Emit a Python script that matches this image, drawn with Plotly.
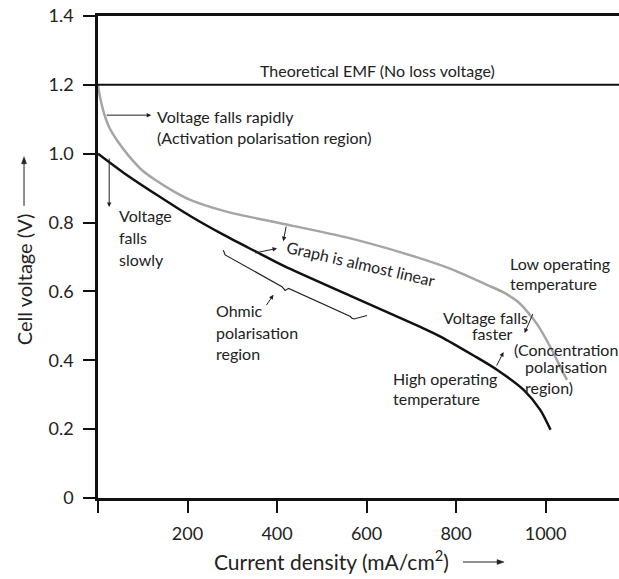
import plotly.graph_objects as go

# Polarisation curves of a fuel cell: cell voltage vs current density
low_temp_j = [0, 3, 7, 14, 25, 44, 66, 96, 130, 170, 206, 281, 355, 415, 564, 720, 795, 869, 905, 936, 958, 981,
              1010, 1040, 1048]
low_temp_v = [1.20, 1.175, 1.15, 1.115, 1.077, 1.036, 0.998, 0.955, 0.922, 0.890, 0.866, 0.834, 0.812, 0.796,
              0.754, 0.696, 0.662, 0.619, 0.598, 0.572, 0.543, 0.505, 0.440, 0.362, 0.343]

high_temp_j = [0, 57, 132, 206, 281, 355, 415, 564, 720, 765, 839, 892, 951, 988, 1011]
high_temp_v = [1.0, 0.945, 0.880, 0.819, 0.764, 0.714, 0.674, 0.587, 0.497, 0.469, 0.414, 0.372, 0.314, 0.256, 0.198]

theoretical_emf = 1.2
y_ticks = [0, 0.2, 0.4, 0.6, 0.8, 1.0, 1.2, 1.4]
y_tick_text = ["0", "0.2", "0.4", "0.6", "0.8", "1.0", "1.2", "1.4"]
x_ticks = [0, 200, 400, 600, 800, 1000]
x_tick_text = ["", "200", "400", "600", "800", "1000"]

FONT = "Lato"
TXT = "#222222"
INK = "#222222"
LBL = 16

fig = go.Figure()
fig.add_trace(go.Scatter(x=low_temp_j, y=low_temp_v, mode="lines",
                         line=dict(color="#a5a5a5", width=2.5, shape="spline", smoothing=0.8),
                         hoverinfo="skip", showlegend=False))
fig.add_trace(go.Scatter(x=high_temp_j, y=high_temp_v, mode="lines",
                         line=dict(color="#111111", width=2.5, shape="spline", smoothing=0.8),
                         hoverinfo="skip", showlegend=False))

# Theoretical EMF line
fig.add_shape(type="line", x0=0, x1=1, xref="paper", y0=theoretical_emf, y1=theoretical_emf,
              yref="y", line=dict(color="#111111", width=2))

# Curly bracket marking the ohmic region
fig.add_shape(type="path", xref="x", yref="y",
              path="M 280,0.720 L 284,0.706 L 411,0.614 L 418,0.603 L 426,0.609 "
                   "L 564,0.527 Q 567,0.521 572,0.520 L 601,0.530",
              line=dict(color=INK, width=1.2))

# Direction arrows beside the axis titles (paper coordinates)
fig.add_shape(type="line", xref="paper", yref="paper", x0=-0.142, x1=-0.142, y0=0.606, y1=0.695,
              line=dict(color=INK, width=1))
fig.add_shape(type="path", xref="paper", yref="paper",
              path="M -0.1468,0.6935 L -0.1372,0.6935 L -0.142,0.708 Z",
              fillcolor=INK, line=dict(color=INK, width=0.5))
fig.add_shape(type="line", xref="paper", yref="paper", x0=0.7006, x1=0.768, y0=-0.1328, y1=-0.1328,
              line=dict(color=INK, width=1))
fig.add_shape(type="path", xref="paper", yref="paper",
              path="M 0.766,-0.1278 L 0.766,-0.1378 L 0.7795,-0.1328 Z",
              fillcolor=INK, line=dict(color=INK, width=0.5))

annotations = []


def label(x, y, text, anchor="left", size=LBL):
    annotations.append(dict(x=x, y=y, xref="x", yref="y", text=text, showarrow=False,
                            xanchor=anchor, yanchor="middle",
                            font=dict(family=FONT, size=size, color=TXT)))


def arrow(x0, y0, x1, y1):
    fig.add_annotation(x=x1, y=y1, ax=x0, ay=y0, xref="x", yref="y",
                       axref="x", ayref="y", text="", showarrow=True,
                       arrowhead=2, arrowsize=0.9, arrowwidth=1, arrowcolor=INK)


label(624, 1.243, "Theoretical EMF (No loss voltage)", anchor="center")
label(128, 1.109, "Voltage falls rapidly")
label(128, 1.048, "(Activation polarisation region)")
arrow(16, 1.112, 119, 1.112)

label(43, 0.822, "Voltage")
label(43, 0.758, "falls")
label(43, 0.694, "slowly")
arrow(25, 0.990, 25, 0.845)

annotations.append(dict(x=588, y=0.680, xref="x", yref="y", text="Graph is almost linear",
                        showarrow=False, textangle=13, xanchor="center", yanchor="middle",
                        font=dict(family=FONT, size=LBL, color=TXT)))
arrow(421, 0.793, 414, 0.746)
arrow(348, 0.711, 400, 0.725)

label(260, 0.546, "Ohmic")
label(260, 0.482, "polarisation")
label(260, 0.421, "region")
arrow(374, 0.556, 392, 0.590)

label(915, 0.682, "Low operating")
label(915, 0.624, "temperature")

label(966, 0.523, "Voltage falls", anchor="right")
label(932, 0.479, "faster", anchor="right")
arrow(973, 0.539, 953, 0.479)

label(925, 0.430, "(Concentration")
label(950, 0.383, "polarisation")
label(950, 0.322, "region)")
arrow(889, 0.380, 906, 0.424)

label(654, 0.348, "High operating")
label(654, 0.290, "temperature")

# Axis titles
annotations.append(dict(x=-0.142, y=0.452, xref="paper", yref="paper", text="Cell voltage (V)",
                        textangle=-90, showarrow=False, xanchor="center", yanchor="middle",
                        font=dict(family=FONT, size=20, color=TXT)))
annotations.append(dict(x=0.449, y=-0.129, xref="paper", yref="paper",
                        text="Current density (mA/cm<sup>2</sup>)",
                        showarrow=False, xanchor="center", yanchor="middle",
                        font=dict(family=FONT, size=21, color=TXT)))

for a in annotations:
    fig.add_annotation(**a)

fig.update_layout(
    width=619, height=579,
    margin=dict(l=98, r=0, t=16, b=81),
    paper_bgcolor="white", plot_bgcolor="white",
    font=dict(family=FONT, color=TXT),
)
fig.update_xaxes(range=[0, 1164], showgrid=False, zeroline=False, showline=True, mirror=True,
                 linecolor="#111111", linewidth=2.5, ticks="outside", ticklen=12, tickwidth=2,
                 tickcolor="#111111", tickvals=x_ticks, ticktext=x_tick_text,
                 tickfont=dict(family=FONT, size=18, color=TXT), ticklabelstandoff=6)
fig.update_yaxes(range=[0, 1.4], showgrid=False, zeroline=False, showline=True,
                 linecolor="#111111", linewidth=2.5, ticks="outside", ticklen=12, tickwidth=2,
                 tickcolor="#111111", tickvals=y_ticks, ticktext=y_tick_text,
                 tickfont=dict(family=FONT, size=18, color=TXT), ticklabelstandoff=6)

fig.write_html("out.html")
